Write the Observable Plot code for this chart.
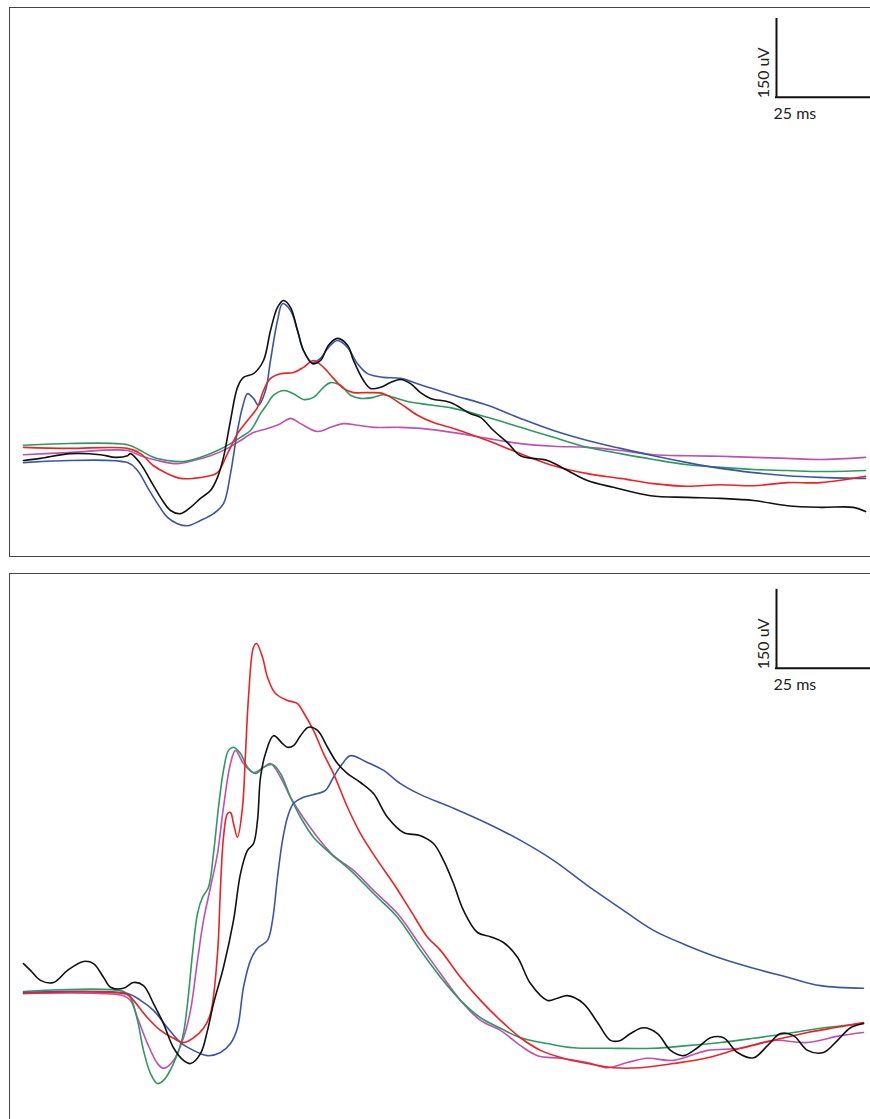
<!DOCTYPE html>
<html>
<head>
<meta charset="utf-8">
<script src="https://cdn.jsdelivr.net/npm/d3@7"></script>
<script src="https://cdn.jsdelivr.net/npm/@observablehq/plot@0.6"></script>
<style>
  html, body { margin: 0; padding: 0; background: #fff; overflow: hidden; }
  svg { display: block; }
</style>
</head>
<body>
<div id="top"></div>
<div id="bottom"></div>
<script>
// ---- data: [time (ms), potential (uV)] ----
const seriesNames = ["trace 5", "trace 4", "trace 3", "trace 2", "trace 1"];
const seriesColors = ["#c050b0", "#2e9960", "#3a55a5", "#ee2222", "#111111"];

const topBlack = [[0.25,-19],[4.5,-15],[12,-6],[19.5,-8],[23.25,-13],[26.25,-10],[27,-6],[29.5,-25],[32,-57],[34.5,-89],[37,-114],[39.5,-120],[42,-108],[44.5,-91],[47,-76],[48.75,-51],[50.25,-13],[52,57],[53.75,120],[55.25,139],[57.75,146],[60.25,171],[62,228],[63.75,272],[65.25,285],[67,272],[68.75,228],[70.25,190],[72.5,165],[74.5,171],[76.5,200],[78.75,213],[81.25,200],[82.75,171],[85.25,133],[87,118],[89.5,120],[92,129],[94.5,135],[97,127],[99.5,110],[102,99],[107,91],[112,70],[114.5,63],[117.75,38],[121.25,15],[124.5,-10],[131.25,-19],[136.25,-38],[141.25,-57],[147.75,-70],[157,-86],[166.25,-89],[174.5,-91],[182.75,-95],[191.25,-105],[199.5,-108],[207.75,-108],[210.75,-116]];
const topBlue = [[0.25,-23],[26.25,-23],[28.75,-38],[31.25,-70],[33.75,-101],[36.25,-127],[38.75,-139],[41.25,-143],[44.5,-133],[47.75,-120],[50.25,-101],[52,-44],[53.75,38],[55,82],[56.25,108],[57.75,99],[59,86],[60.75,114],[62,171],[63.75,247],[65,279],[67,266],[68.75,228],[70.25,190],[72.5,167],[74.5,175],[76.5,196],[78.75,209],[81.25,196],[83.75,165],[86.25,146],[90.25,139],[94.5,137],[99.5,125],[107.75,105],[116.25,86],[124.5,61],[132.75,38],[141.25,19],[149.5,4],[157.75,-10],[166.25,-23],[174.5,-34],[182.75,-42],[191.25,-48],[199.5,-51],[210.75,-53]];
const topRed = [[0.25,6],[11.25,4],[26.25,4],[29.5,-6],[32.75,-29],[36.25,-44],[39.5,-53],[42.75,-53],[46.25,-49],[48.75,-42],[51.25,-6],[53.75,32],[56.25,57],[58.75,82],[60.25,114],[62,137],[64.5,146],[67.75,148],[70.25,158],[72.75,171],[75.25,158],[77.75,137],[80.25,118],[82.75,110],[86.25,110],[90.25,108],[94.5,89],[98.75,67],[102.75,53],[107.75,42],[116.25,19],[124.5,-6],[132.75,-29],[141.25,-44],[149.5,-53],[157.75,-63],[166.25,-68],[174.5,-65],[182.75,-67],[191.25,-61],[199.5,-61],[210.75,-49]];
const topGreen = [[0.25,10],[26.25,11],[29.5,0],[32.75,-13],[36.25,-19],[40.25,-21],[44.5,-13],[48.75,0],[52,13],[54.5,25],[57,38],[59.5,70],[61.25,89],[62.75,105],[65.25,114],[67.75,108],[70.25,97],[72.75,101],[75.25,120],[77,129],[79.5,124],[82,105],[84.5,99],[87.75,101],[90.25,106],[92.75,101],[96.25,93],[99.5,89],[107.75,80],[116.25,63],[124.5,44],[132.75,25],[141.25,6],[149.5,-6],[157.75,-17],[166.25,-27],[174.5,-32],[182.75,-36],[191.25,-38],[199.5,-40],[210.75,-38]];
const topMagenta = [[0.25,-8],[11.25,-4],[26.25,0],[29.5,-10],[33.75,-19],[38.75,-25],[42.75,-19],[47,-10],[51.25,4],[54.5,19],[57.75,34],[61.25,42],[64.5,51],[67,61],[69.5,51],[73.75,36],[77,44],[80.25,51],[83.75,48],[87.75,44],[94.5,44],[99.5,42],[107.75,34],[116.25,23],[124.5,13],[132.75,8],[141.25,6],[149.5,0],[157.75,-8],[166.25,-10],[174.5,-11],[182.75,-13],[191.25,-15],[199.5,-17],[210.75,-13]];

const botBlack = [[0.25,55],[2,42],[4.5,23],[7.75,19],[11.25,42],[15.25,59],[17.75,55],[20.25,29],[22,10],[25.25,8],[27.75,19],[30.25,13],[32.75,-21],[35.25,-59],[37.75,-105],[40.25,-129],[42,-135],[44.5,-116],[46.25,-72],[47.75,-21],[50.25,48],[52.75,137],[54.5,226],[56.25,270],[57.75,283],[58.75,327],[59.5,409],[60.75,454],[62.75,488],[65,473],[66.25,466],[67.75,469],[69.5,488],[71.5,504],[73.75,498],[76.25,466],[78.75,435],[81.25,416],[84.5,399],[87.75,378],[91.25,333],[95.25,304],[99.5,298],[102.75,283],[105.25,251],[107.75,207],[110.25,156],[113.75,114],[117,106],[120.25,95],[123.75,67],[127,17],[131.25,-15],[133.75,-11],[136.25,-6],[140.25,-21],[143.75,-57],[147,-91],[149.5,-91],[152,-78],[155.25,-67],[158.75,-78],[162,-110],[165.25,-120],[168.75,-105],[172,-86],[175.25,-86],[178.75,-114],[182.75,-124],[186.25,-101],[189.5,-78],[192.75,-82],[196.25,-110],[200.25,-114],[203.75,-91],[207,-67],[210.25,-59]];
const botRed = [[0.25,-2],[26.25,-4],[27.75,-15],[31.25,-48],[34.5,-72],[37.75,-87],[40.25,-95],[42.75,-86],[45.25,-68],[47,-40],[48.75,74],[49.5,200],[50.25,295],[51.25,340],[52,342],[52.75,321],[53.75,295],[55,352],[55.75,454],[56.5,561],[57.75,656],[58.5,663],[60,637],[61.25,599],[63.25,568],[66.25,555],[68.75,549],[70.25,532],[72.75,498],[75.25,454],[77.75,416],[81.25,352],[84.5,302],[88.75,251],[92.75,207],[97,156],[101.25,105],[104.5,80],[109.5,29],[114.5,-15],[119.5,-53],[124.5,-86],[129.5,-110],[135.25,-125],[141.25,-135],[147.75,-143],[154.5,-143],[162.75,-135],[171.25,-124],[179.5,-106],[187.75,-91],[196.25,-76],[204.5,-65],[210.25,-57]];
const botGreen = [[0.25,2],[25.25,2],[27,-10],[28.75,-53],[30.25,-110],[32,-154],[33.75,-173],[35.25,-167],[37.75,-135],[40,-86],[41.25,-21],[42.5,74],[43.75,150],[45,181],[46.5,200],[47.75,264],[49,352],[50.25,422],[51.5,460],[52.75,466],[54.5,454],[56.25,428],[58.25,416],[60.25,428],[62.5,433],[64.5,416],[67,371],[69.5,333],[72.75,295],[77,264],[82,232],[87.75,188],[93.75,143],[99.5,80],[104.5,29],[109.5,-15],[114.5,-48],[119.5,-68],[124.5,-86],[131.25,-97],[137.75,-105],[146.25,-106],[157.75,-106],[166.25,-101],[174.5,-95],[182.75,-87],[191.25,-78],[199.5,-68],[210.25,-59]];
const botMagenta = [[0.25,-2],[25.25,-6],[27,-15],[28.75,-48],[31.25,-97],[33.75,-135],[35.25,-144],[37.75,-129],[40.25,-86],[42,-34],[43.75,61],[45.25,137],[47,200],[48.75,264],[50.25,352],[52,435],[53.25,460],[55.25,435],[57.75,418],[60.25,428],[62,435],[64.5,409],[67,371],[69.5,340],[73.75,295],[77.75,260],[82.75,232],[87.75,194],[93.75,150],[99.5,89],[104.5,36],[109.5,-15],[114.5,-53],[119.5,-72],[124.5,-101],[128.75,-120],[134.5,-125],[141.25,-133],[146.25,-143],[151.25,-133],[156.25,-125],[162.75,-129],[171.25,-110],[179.5,-106],[187.75,-91],[196.25,-95],[204.5,-82],[210.25,-76]];
const botBlue = [[0.25,0],[26.25,-2],[29.5,-15],[32.75,-34],[36.25,-67],[39.5,-95],[42.75,-110],[46.25,-120],[49.5,-114],[52,-97],[53.75,-67],[55.25,10],[57,61],[58.75,84],[61.25,99],[62.5,137],[63.75,219],[65,289],[66.25,333],[67.75,359],[70.25,371],[73.75,378],[75.75,384],[77.75,409],[80,435],[82,450],[86.25,437],[90.25,422],[94.5,397],[99.5,376],[107.75,350],[116.25,321],[124.5,289],[132.75,251],[141.25,203],[149.5,160],[157.75,118],[166.25,89],[174.5,65],[182.75,46],[191.25,29],[199.5,13],[210.25,8]];

// scale bar: [time origin (ms), potential origin (uV)]
const scaleBarMs = 25;
const scaleBarUv = 150;
const scaleLabels = ["150 uV", "25 ms"];
const topScaleOrigin = [188.5, 671];
const botScaleOrigin = [188.5, 616];

const xDomain = [-3.25, 212];
const topYDomain = [-201.4, 841.7];
const botYDomain = [-254.6, 796.1];

function panel(seriesPts, yDomain, height, marginTop, marginBottom, origin) {
  const rows = [];
  seriesPts.forEach((pts, i) => pts.forEach(([t, v]) => rows.push({t, v, name: seriesNames[i]})));
  const [t0, v0] = origin;
  return Plot.plot({
    width: 870,
    height,
    marginLeft: 9,
    marginRight: 0,
    marginTop,
    marginBottom,
    x: {domain: xDomain, axis: null},
    y: {domain: yDomain, axis: null},
    color: {type: "ordinal", domain: seriesNames, range: seriesColors},
    marks: [
      Plot.frame({stroke: "#444", strokeWidth: 1}),
      Plot.line(rows, {x: "t", y: "v", z: "name", stroke: "name", strokeWidth: 1.6, curve: "catmull-rom"}),
      Plot.ruleX([t0], {y1: v0, y2: v0 + scaleBarUv, stroke: "#111", strokeWidth: 2}),
      Plot.ruleY([v0], {x1: t0 - 0.25, x2: t0 + scaleBarMs, stroke: "#111", strokeWidth: 2}),
      Plot.text([scaleLabels[0]], {x: [t0], y: [v0], text: d => d, rotate: -90, textAnchor: "start", lineAnchor: "middle", dx: -13, dy: 1, fontSize: 16, fontFamily: "Lato", fill: "#222"}),
      Plot.text([scaleLabels[1]], {x: [t0], y: [v0], text: d => d, textAnchor: "start", lineAnchor: "middle", dx: -3, dy: 17, fontSize: 16, fontFamily: "Lato", fill: "#222"})
    ]
  });
}

document.getElementById("top").append(
  panel([topMagenta, topGreen, topBlue, topRed, topBlack], topYDomain, 566, 7, 10, topScaleOrigin)
);
document.getElementById("bottom").append(
  panel([botMagenta, botGreen, botBlue, botRed, botBlack], botYDomain, 560, 7, 0, botScaleOrigin)
);
</script>
</body>
</html>
